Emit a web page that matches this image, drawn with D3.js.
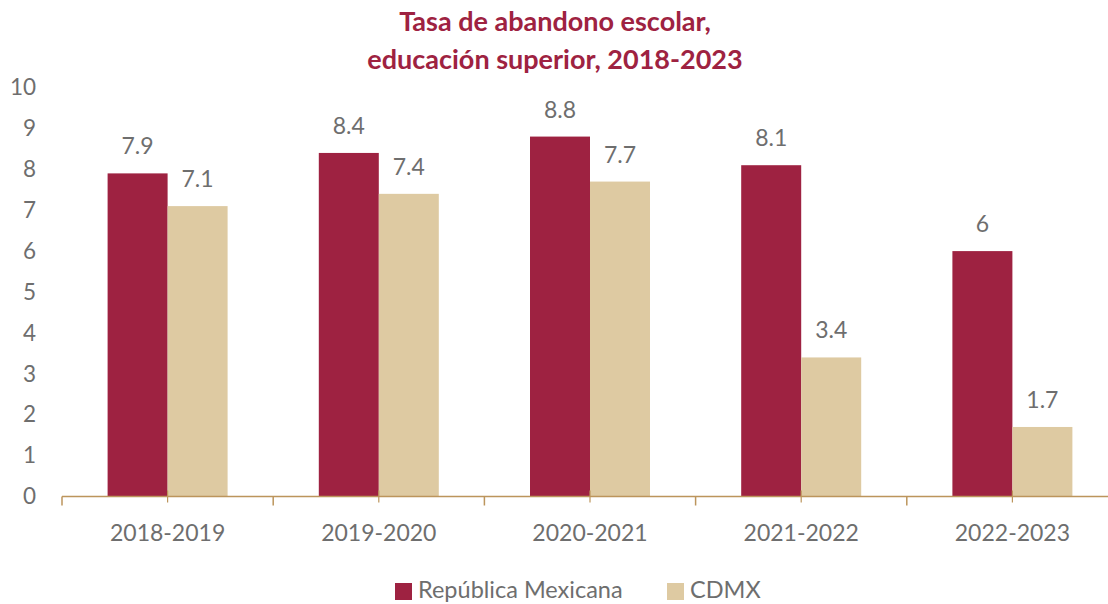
<!DOCTYPE html>
<html><head><meta charset="utf-8">
<script src="https://cdn.jsdelivr.net/npm/d3@7"></script>
<style>body{margin:0;background:#fff}svg{display:block}</style>
</head><body><svg id="c" width="1108" height="604"></svg>
<script>
const categories = ["2018-2019","2019-2020","2020-2021","2021-2022","2022-2023"];
const seriesNames = ["República Mexicana","CDMX"];
const republica = [7.9, 8.4, 8.8, 8.1, 6];
const cdmx = [7.1, 7.4, 7.7, 3.4, 1.7];
const yTicks = [0,1,2,3,4,5,6,7,8,9,10];
const colors = ["#9e2241","#decaa2"];
const titleLines = ["Tasa de abandono escolar,","educación superior, 2018-2023"];

const FONT = "Lato, 'Open Sans', sans-serif";
const svg = d3.select("#c");
const x = d3.scaleBand().domain(categories).range([62, 62 + 5*211.2]).paddingInner(0).paddingOuter(0);
const xs = d3.scaleBand().domain(seriesNames).range([0, x.bandwidth()]).paddingInner(0).paddingOuter(0.76);
const y = d3.scaleLinear().domain([0,10]).range([496.5, 87.5]);

// title
svg.append("g").selectAll("text").data(titleLines).join("text")
  .attr("x", 555).attr("y", (d,i)=> 31 + i*38)
  .attr("text-anchor","middle").attr("font-family",FONT).attr("font-weight","bold")
  .attr("font-size",27).attr("fill","#9e2241").text(d=>d);

// y axis labels
const yAxis = d3.axisLeft(y).tickValues(yTicks).tickSize(0).tickPadding(0);
const gy = svg.append("g").attr("transform","translate(36,0)").call(yAxis);
gy.select(".domain").remove();
gy.selectAll("text").attr("font-family",FONT).attr("font-size",22.5).attr("fill","#6e6e6e");

// bars
const data = categories.map((c,i)=>({c, vals:[republica[i], cdmx[i]]}));
const g = svg.append("g");
data.forEach(d=>{
  d.vals.forEach((v,j)=>{
    const xx = x(d.c) + xs(seriesNames[j]);
    g.append("rect").attr("x", xx).attr("width", xs.bandwidth())
      .attr("y", y(v)).attr("height", y(0)-y(v)).attr("fill", colors[j]);
    g.append("text").attr("x", xx + xs.bandwidth()/2).attr("y", y(v) - 19)
      .attr("text-anchor","middle").attr("font-family",FONT).attr("font-size",23)
      .attr("fill","#6e6e6e").text(v);
  });
});

// x axis
const gx = svg.append("g").attr("transform",`translate(0,${y(0)})`);
gx.append("line").attr("x1",62).attr("x2",1108).attr("y1",0).attr("y2",0)
  .attr("stroke","#bc955c").attr("stroke-width",1.5);
const bounds = categories.map(c=>x(c));
gx.selectAll("line.tb").data(bounds).join("line").attr("class","tb")
  .attr("x1",d=>d).attr("x2",d=>d).attr("y1",0).attr("y2",9)
  .attr("stroke","#bc955c").attr("stroke-width",1.5);
gx.selectAll("line.tc").data(categories).join("line").attr("class","tc")
  .attr("x1",d=>x(d)+x.bandwidth()/2).attr("x2",d=>x(d)+x.bandwidth()/2).attr("y1",-6).attr("y2",6)
  .attr("stroke","#bc955c").attr("stroke-width",1.2);
gx.selectAll("text").data(categories).join("text")
  .attr("x",d=>x(d)+x.bandwidth()/2).attr("y",44).attr("text-anchor","middle")
  .attr("font-family",FONT).attr("font-size",23).attr("fill","#6e6e6e").text(d=>d);

// legend
const leg = svg.append("g");
const legX = [395, 667];
seriesNames.forEach((n,i)=>{
  leg.append("rect").attr("x",legX[i]).attr("y",583).attr("width",17).attr("height",17).attr("fill",colors[i]);
  leg.append("text").attr("x",legX[i]+23).attr("y",598).attr("font-family",FONT)
    .attr("font-size",23.5).attr("fill","#6e6e6e").text(n);
});
</script></body></html>
